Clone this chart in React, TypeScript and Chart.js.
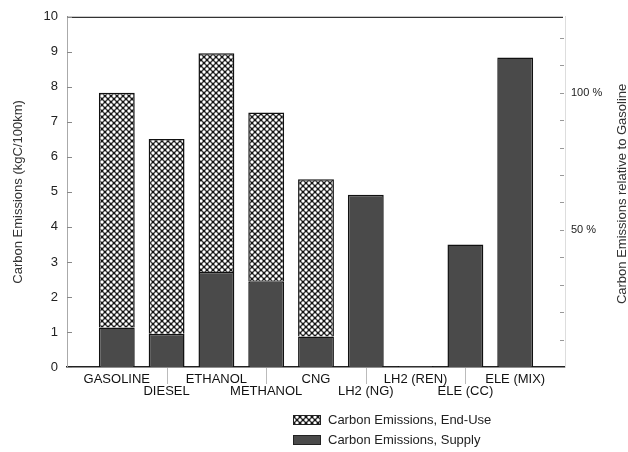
import React, { useEffect, useRef } from 'react';
import { Chart, registerables } from 'chart.js';

Chart.register(...registerables);

const categories = ['GASOLINE', 'DIESEL', 'ETHANOL', 'METHANOL', 'CNG', 'LH2 (NG)', 'LH2 (REN)', 'ELE (CC)', 'ELE (MIX)'];
const supplyValues = [1.13, 0.95, 2.71, 2.45, 0.87, 4.92, 0.03, 3.5, 8.84];
const endUseValues = [6.7, 5.56, 6.25, 4.82, 4.49, 0, 0, 0, 0];
const leftTickValues = [0, 1, 2, 3, 4, 5, 6, 7, 8, 9, 10];
const percentLabelValues = [50, 100];
const legendLabels = ['Carbon Emissions, End-Use', 'Carbon Emissions, Supply'];
const leftTitle = 'Carbon Emissions (kgC/100km)';
const rightTitle = 'Carbon Emissions relative to Gasoline';

const FONT = '"Liberation Sans", Arial, Helvetica, sans-serif';

function makePattern(): CanvasPattern | string {
  const c = document.createElement('canvas');
  const s = 6;
  c.width = s;
  c.height = s;
  const g = c.getContext('2d');
  if (!g) return '#888';
  g.fillStyle = '#141414';
  g.fillRect(0, 0, s, s);
  g.fillStyle = '#ffffff';
  const pts = [[0, 0], [s, 0], [0, s], [s, s], [s / 2, s / 2]];
  for (const [px, py] of pts) {
    g.beginPath();
    g.arc(px, py, 1.7, 0, Math.PI * 2);
    g.fill();
  }
  const p = g.createPattern(c, 'repeat');
  return p || '#888';
}

export default function App() {
  const ref = useRef<HTMLCanvasElement | null>(null);

  useEffect(() => {
    const canvas = ref.current;
    if (!canvas) return;
    const pattern = makePattern();
    const supplyColor = '#4a4a4a';

    const labels: (string | string[])[] = [''];
    categories.forEach((c, i) => labels.push(i % 2 === 0 ? [c, ''] : ['', c]));
    labels.push('');

    const gasTotal = supplyValues[0] + endUseValues[0];
    const rightMax = (10 / gasTotal) * 100;

    const overlay = {
      id: 'overlay',
      afterDraw(chart: any) {
        const ctx = chart.ctx as CanvasRenderingContext2D;
        const area = chart.chartArea;
        const x = chart.scales.x;
        const y = chart.scales.y;
        const y2 = chart.scales.y2;
        ctx.save();
        // top frame line
        ctx.strokeStyle = '#333';
        ctx.lineWidth = 1.3;
        ctx.beginPath();
        ctx.moveTo(area.left, area.top + 0.5);
        ctx.lineTo(area.right - 2, area.top + 0.5);
        ctx.stroke();
        // left inward ticks
        ctx.strokeStyle = '#888';
        ctx.lineWidth = 1;
        leftTickValues.forEach((v) => {
          const py = Math.round(y.getPixelForValue(v)) + 0.5;
          ctx.beginPath();
          ctx.moveTo(area.left, py);
          ctx.lineTo(area.left + 5, py);
          ctx.stroke();
        });
        // right inward ticks
        ctx.strokeStyle = '#999';
        for (let v = 10; v < rightMax; v += 10) {
          const py = Math.round(y2.getPixelForValue(v)) + 0.5;
          ctx.beginPath();
          ctx.moveTo(area.right - 5, py);
          ctx.lineTo(area.right - 1, py);
          ctx.stroke();
        }
        // x small tick marks at lower-row categories
        ctx.strokeStyle = '#bbb';
        categories.forEach((_, i) => {
          if (i % 2 === 1) {
            const px = Math.round(x.getPixelForValue(i + 1)) + 0.5;
            ctx.beginPath();
            ctx.moveTo(px, area.bottom + 1);
            ctx.lineTo(px, area.bottom + 17);
            ctx.stroke();
          }
        });
        // titles
        ctx.fillStyle = '#333';
        ctx.font = `13px ${FONT}`;
        ctx.textAlign = 'center';
        ctx.textBaseline = 'middle';
        const cy = (area.top + area.bottom) / 2;
        ctx.save();
        ctx.translate(18, cy);
        ctx.rotate(-Math.PI / 2);
        ctx.fillText(leftTitle, 0, 0);
        ctx.restore();
        ctx.save();
        ctx.translate(622, cy + 2);
        ctx.rotate(-Math.PI / 2);
        ctx.fillText(rightTitle, 0, 0);
        ctx.restore();
        // legend
        const lx = 293;
        const rows = [415, 435];
        const fills = [pattern, supplyColor];
        rows.forEach((ry, i) => {
          ctx.fillStyle = fills[i] as any;
          ctx.fillRect(lx, ry, 28, 10);
          ctx.strokeStyle = '#222';
          ctx.lineWidth = 1;
          ctx.strokeRect(lx + 0.5, ry + 0.5, 27, 9);
          ctx.fillStyle = '#222';
          ctx.textAlign = 'left';
          ctx.textBaseline = 'middle';
          ctx.font = `13px ${FONT}`;
          ctx.fillText(legendLabels[i], 328, ry + 5.5);
        });
        ctx.restore();
      },
    };

    const chart = new Chart(canvas, {
      type: 'bar',
      data: {
        labels,
        datasets: [
          {
            label: legendLabels[1],
            data: [null, ...supplyValues, null],
            backgroundColor: supplyColor,
            borderColor: '#111',
            borderWidth: 1.5,
            yAxisID: 'y',
          },
          {
            label: legendLabels[0],
            data: [null, ...endUseValues, null],
            backgroundColor: pattern as any,
            borderColor: '#111',
            borderWidth: 1.5,
            yAxisID: 'y',
          },
        ],
      },
      options: {
        animation: false,
        responsive: false,
        maintainAspectRatio: false,
        layout: { padding: { top: 12, left: 0, right: 0, bottom: 0 } },
        plugins: { legend: { display: false }, tooltip: { enabled: false } },
        scales: {
          x: {
            type: 'category',
            offset: false,
            stacked: true,
            grid: { display: false, drawTicks: false },
            border: { display: true, color: '#222', width: 1.5 },
            ticks: {
              autoSkip: false,
              maxRotation: 0,
              minRotation: 0,
              padding: 7,
              color: '#111',
              font: { family: FONT, size: 13, lineHeight: 0.9 },
            },
            afterFit: (s: any) => {
              s.height = 85;
            },
          },
          y: {
            stacked: true,
            min: 0,
            max: 10,
            ticks: { stepSize: 1, padding: 9, color: '#222', font: { family: FONT, size: 13 } },
            grid: { display: false, drawTicks: false },
            border: { display: true, color: '#aaa', dash: [2, 2] },
            afterFit: (s: any) => {
              s.width = 67;
            },
          },
          y2: {
            position: 'right',
            min: 0,
            max: rightMax,
            ticks: {
              stepSize: 10,
              padding: 6,
              color: '#222',
              font: { family: FONT, size: 11 },
              callback: (v: any) => (percentLabelValues.includes(Number(v)) ? `${v} %` : ''),
            },
            grid: { display: false, drawTicks: false },
            border: { display: true, color: '#ddd', dash: [2, 3] },
            afterFit: (s: any) => {
              s.width = 63;
            },
          },
        },
      },
      plugins: [overlay],
    });

    return () => chart.destroy();
  }, []);

  return (
    <div style={{ position: 'fixed', left: 0, top: 0, width: 628, height: 452, background: '#fff' }}>
      <canvas ref={ref} width={628} height={452} style={{ width: 628, height: 452, display: 'block' }} />
    </div>
  );
}
